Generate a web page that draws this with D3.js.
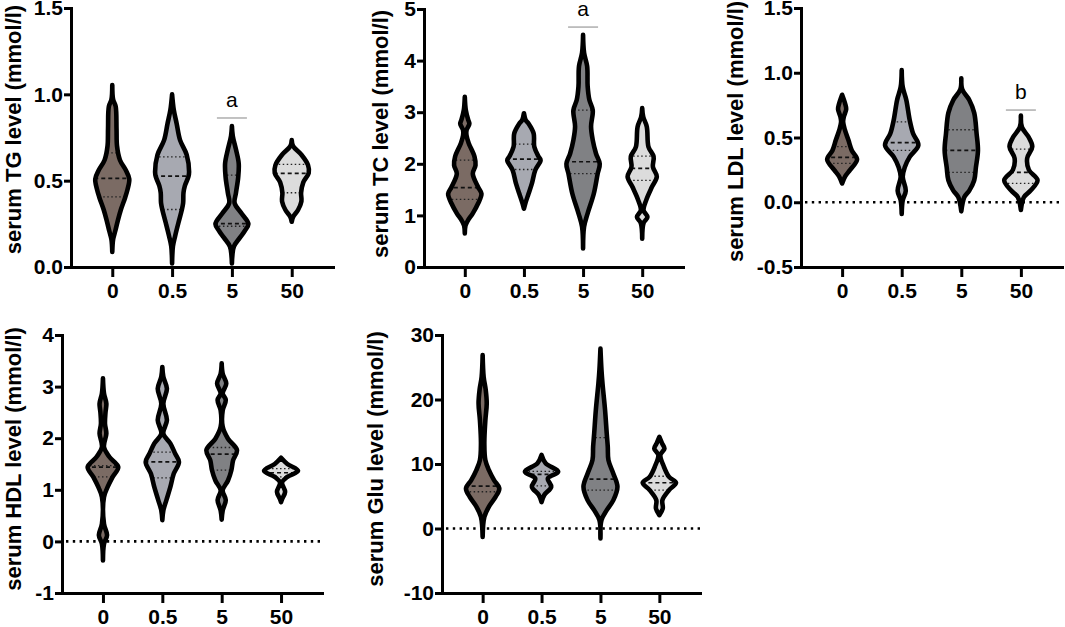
<!DOCTYPE html>
<html>
<head>
<meta charset="utf-8">
<script src="https://cdn.jsdelivr.net/npm/d3@7"></script>
<style>
  body { margin: 0; background: #fff; }
  svg { display: block; font-family: "Liberation Sans", Arial, sans-serif; }
</style>
</head>
<body>
<svg id="chart" width="1065" height="627"></svg>
<script>
// groups on the x axis and their fills
const groups = ["0", "0.5", "5", "50"];
const groupFill = ["#7b6b64", "#a7a9b1", "#808184", "#dcdcdc"];

// violin outlines: [value, relative half width 0..1]
const tgShape = [
  [[1.054,0],[0.97,0.05],[0.93,0.2],[0.8,0.25],[0.7,0.28],[0.62,0.45],[0.56,0.8],[0.51,1.0],[0.45,0.9],[0.4,0.75],[0.33,0.5],[0.27,0.33],[0.21,0.18],[0.16,0.05],[0.087,0]],
  [[1.0,0],[0.91,0.1],[0.83,0.27],[0.735,0.47],[0.65,0.86],[0.55,1.0],[0.523,0.96],[0.47,0.75],[0.43,0.67],[0.37,0.65],[0.33,0.57],[0.255,0.37],[0.18,0.18],[0.12,0.05],[0.02,0]],
  [[0.816,0],[0.76,0.05],[0.68,0.24],[0.6,0.4],[0.52,0.37],[0.43,0.24],[0.37,0.16],[0.31,0.57],[0.25,0.97],[0.21,0.76],[0.17,0.47],[0.12,0.12],[0.07,0.03],[0.02,0]],
  [[0.735,0],[0.70,0.08],[0.65,0.57],[0.59,0.96],[0.545,1.0],[0.49,0.68],[0.43,0.55],[0.38,0.57],[0.33,0.37],[0.29,0.08],[0.262,0]]
];
const tgMedian = [0.513, 0.526, 0.251, 0.542];
const tgQ1 = [0.406, 0.333, 0.236, 0.43];
const tgQ3 = [0.661, 0.638, 0.532, 0.594];

const tcShape = [
  [[3.3,0],[3.04,0.06],[2.85,0.2],[2.78,0.27],[2.65,0.1],[2.55,0.1],[2.4,0.23],[2.14,0.57],[1.97,0.63],[1.81,0.47],[1.55,0.78],[1.42,0.98],[1.23,0.78],[1.04,0.47],[0.9,0.18],[0.8,0.04],[0.65,0]],
  [[2.98,0],[2.85,0.1],[2.78,0.27],[2.59,0.57],[2.33,0.61],[2.14,0.86],[2.07,0.98],[1.88,0.67],[1.62,0.47],[1.42,0.27],[1.23,0.08],[1.13,0]],
  [[4.5,0],[4.15,0.06],[3.89,0.24],[3.5,0.27],[3.24,0.37],[3.04,0.57],[2.72,0.47],[2.46,0.57],[2.2,0.76],[2.0,0.98],[1.81,0.86],[1.42,0.63],[1.04,0.27],[0.78,0.06],[0.36,0]],
  [[3.08,0],[2.91,0.06],[2.72,0.27],[2.33,0.37],[2.14,0.67],[1.94,0.63],[1.75,0.86],[1.55,0.57],[1.3,0.24],[1.1,0.08],[0.97,0.31],[0.85,0.08],[0.55,0]]
];
const tcMedian = [1.54, 2.09, 2.04, 1.91];
const tcQ1 = [1.31, 1.89, 1.81, 1.68];
const tcQ3 = [2.07, 2.38, 3.04, 2.15];

const ldlShape = [
  [[0.83,0],[0.76,0.18],[0.72,0.24],[0.66,0.1],[0.62,0.06],[0.56,0.16],[0.48,0.37],[0.40,0.57],[0.33,0.88],[0.25,0.47],[0.2,0.18],[0.145,0]],
  [[1.02,0],[0.89,0.06],[0.79,0.27],[0.635,0.47],[0.53,0.67],[0.44,0.98],[0.35,0.47],[0.27,0.18],[0.196,0.06],[0.09,0.24],[0.015,0.06],[-0.09,0]],
  [[0.957,0],[0.87,0.06],[0.79,0.47],[0.69,0.76],[0.53,0.9],[0.40,0.98],[0.27,0.86],[0.17,0.76],[0.09,0.47],[0.04,0.18],[-0.07,0]],
  [[0.67,0],[0.58,0.06],[0.5,0.47],[0.43,0.67],[0.34,0.37],[0.25,0.47],[0.17,0.98],[0.09,0.57],[0.04,0.18],[-0.06,0]]
];
const ldlMedian = [0.346, 0.46, 0.40, 0.23];
const ldlQ1 = [0.30, 0.40, 0.23, 0.145];
const ldlQ3 = [0.43, 0.62, 0.56, 0.41];

const hdlShape = [
  [[3.16,0],[2.87,0.06],[2.67,0.2],[2.5,0.15],[2.28,0.12],[2.09,0.2],[1.83,0.06],[1.64,0.37],[1.44,0.9],[1.25,0.57],[1.05,0.27],[0.86,0.06],[0.34,0.06],[0.12,0.24],[-0.05,0.06],[-0.37,0]],
  [[3.38,0],[3.19,0.06],[2.96,0.27],[2.67,0.06],[2.35,0.27],[2.09,0.06],[1.9,0.47],[1.7,0.76],[1.54,0.98],[1.31,0.67],[1.05,0.47],[0.8,0.24],[0.6,0.06],[0.41,0]],
  [[3.45,0],[3.25,0.06],[3.06,0.27],[2.87,0.06],[2.74,0.24],[2.54,0.06],[2.22,0.06],[1.99,0.37],[1.77,0.9],[1.57,0.67],[1.38,0.57],[1.18,0.37],[0.99,0.06],[0.8,0.24],[0.6,0.06],[0.42,0]],
  [[1.62,0],[1.5,0.37],[1.37,1.0],[1.25,0.37],[1.14,0.06],[0.96,0.24],[0.82,0.06],[0.76,0]]
];
const hdlMedian = [1.44, 1.54, 1.69, 1.33];
const hdlQ1 = [1.25, 1.23, 1.38, 1.25];
const hdlQ3 = [1.47, 1.73, 1.82, 1.41];

const gluShape = [
  [[26.9,0],[23.5,0.06],[21.5,0.18],[19.4,0.24],[16.8,0.16],[13.2,0.1],[10.6,0.16],[9.05,0.37],[7.5,0.67],[6.2,0.98],[4.9,0.76],[3.4,0.37],[1.8,0.1],[-1.3,0]],
  [[11.4,0],[10.1,0.24],[8.8,0.98],[7.76,0.37],[6.47,0.57],[5.2,0.16],[4.1,0]],
  [[27.9,0],[24.6,0.06],[22.5,0.12],[18.4,0.27],[14.7,0.37],[12.7,0.43],[10.6,0.47],[8.5,0.76],[6.47,1.0],[4.4,0.76],[2.85,0.37],[1.3,0.06],[-1.55,0]],
  [[14.2,0],[13.2,0.16],[12.4,0.3],[11.4,0.06],[9.57,0.27],[8.0,0.57],[7.1,0.98],[5.95,0.57],[4.4,0.18],[3.1,0.2],[2.07,0]]
];
const gluMedian = [6.57, 8.4, 7.66, 7.09];
const gluQ1 = [5.7, 6.6, 5.95, 5.95];
const gluQ3 = [15.5, 8.85, 14.1, 8.1];

// y ticks per panel
const tgTicks = [0, 0.5, 1.0, 1.5];
const tcTicks = [0, 1, 2, 3, 4, 5];
const ldlTicks = [-0.5, 0, 0.5, 1.0, 1.5];
const hdlTicks = [-1, 0, 1, 2, 3, 4];
const gluTicks = [-10, 0, 10, 20, 30];

// significance letters: [group, letter, value of bar]
const tgSig = ["5", "a", 0.863];
const tcSig = ["5", "a", 4.65];
const ldlSig = ["50", "b", 0.712];

const panels = [
  {title: "serum TG level (mmol/l)", shape: tgShape, med: tgMedian, q1: tgQ1, q3: tgQ3, ticks: tgTicks, fmt: ".1f", sig: tgSig, zero: false,
   left: 71, width: 262, top: 8, bottom: 267, titleX: 21, titleShift: -8},
  {title: "serum TC level (mmol/l)", shape: tcShape, med: tcMedian, q1: tcQ1, q3: tcQ3, ticks: tcTicks, fmt: "d", sig: tcSig, zero: false,
   left: 424, width: 259, top: 9, bottom: 267, titleX: 388, titleShift: -4},
  {title: "serum LDL level (mmol/l)", shape: ldlShape, med: ldlMedian, q1: ldlQ1, q3: ldlQ3, ticks: ldlTicks, fmt: ".1f", sig: ldlSig, zero: true,
   left: 801, width: 261, top: 8, bottom: 267, titleX: 743, titleShift: -6},
  {title: "serum HDL level (mmol/l)", shape: hdlShape, med: hdlMedian, q1: hdlQ1, q3: hdlQ3, ticks: hdlTicks, fmt: "d", sig: null, zero: true,
   left: 62, width: 260, top: 335, bottom: 593, titleX: 21, titleShift: -5},
  {title: "serum Glu level (mmol/l)", shape: gluShape, med: gluMedian, q1: gluQ1, q3: gluQ3, ticks: gluTicks, fmt: "d", sig: null, zero: true,
   left: 442, width: 258, top: 335, bottom: 593, titleX: 383, titleShift: -5}
];

let chart = d3.select("#chart");
let widthScale = d3.scaleLinear().domain([0, 1]).range([0, 17]);

panels.forEach(function(p, i) {
  let g = chart.append("g");
  let xScale = d3.scalePoint().domain(groups).range([p.left, p.left + p.width]).padding(0.69);
  let yScale = d3.scaleLinear().domain([p.ticks[0], p.ticks[p.ticks.length - 1]]).range([p.bottom, p.top]);

  // dotted zero line behind the violins
  if (p.zero) {
    g.append("line")
      .attr("x1", p.left + 4).attr("x2", p.left + p.width)
      .attr("y1", yScale(0)).attr("y2", yScale(0))
      .attr("stroke", "#000").attr("stroke-width", 2.6)
      .attr("stroke-dasharray", "2.4,4.4");
  }

  p.shape.forEach(function(shape, k) {
    let cx = xScale(groups[k]);
    let area = d3.area()
      .curve(d3.curveCatmullRom)
      .y(d => yScale(d[0]))
      .x0(d => cx - widthScale(d[1]))
      .x1(d => cx + widthScale(d[1]));
    let id = "clip" + i + "_" + k;
    g.append("clipPath").attr("id", id)
      .append("path").attr("d", area(shape));

    g.append("path").attr("d", area(shape)).attr("fill", groupFill[k]);

    // quartiles dotted, median dashed, clipped to the violin
    [p.q1[k], p.q3[k]].forEach(function(v) {
      g.append("line")
        .attr("clip-path", "url(#" + id + ")")
        .attr("x1", cx - 25).attr("x2", cx + 25)
        .attr("y1", yScale(v)).attr("y2", yScale(v))
        .attr("stroke", "#222").attr("stroke-width", 1.3)
        .attr("stroke-dasharray", "1.5,2.5");
    });
    g.append("line")
      .attr("clip-path", "url(#" + id + ")")
      .attr("x1", cx - 25).attr("x2", cx + 25)
      .attr("y1", yScale(p.med[k])).attr("y2", yScale(p.med[k]))
      .attr("stroke", "#111").attr("stroke-width", 1.7)
      .attr("stroke-dasharray", "4,3");

    g.append("path").attr("d", area(shape))
      .attr("fill", "none").attr("stroke", "#000")
      .attr("stroke-width", 4.6).attr("stroke-linejoin", "round");
  });

  // significance mark
  if (p.sig) {
    let sx = xScale(p.sig[0]);
    let sy = yScale(p.sig[2]);
    g.append("line")
      .attr("x1", sx - 15).attr("x2", sx + 15)
      .attr("y1", sy).attr("y2", sy)
      .attr("stroke", "#999").attr("stroke-width", 1.2);
    g.append("text").text(p.sig[1])
      .attr("x", sx).attr("y", sy - 11)
      .attr("text-anchor", "middle")
      .attr("font-size", "21px");
  }

  let fmt = d3.format(p.fmt);
  let yAxis = g.append("g")
    .attr("transform", "translate(" + p.left + ",0)")
    .call(d3.axisLeft(yScale).tickValues(p.ticks).tickSize(7).tickSizeOuter(0).tickPadding(1)
      .tickFormat(d => fmt(d).replace("\u2212", "-")));
  let xAxis = g.append("g")
    .attr("transform", "translate(0," + p.bottom + ")")
    .call(d3.axisBottom(xScale).tickSize(10).tickSizeOuter(0).tickPadding(6));

  [yAxis, xAxis].forEach(function(a) {
    a.select(".domain").attr("stroke-width", 3).attr("stroke-linecap", "square");
    a.selectAll(".tick line").attr("stroke-width", 3);
    a.selectAll(".tick text")
      .attr("font-family", "'Liberation Sans', Arial, sans-serif")
      .attr("font-size", "21px").attr("font-weight", "bold").attr("fill", "#000");
  });

  g.append("text")
    .text(p.title)
    .attr("transform", "translate(" + p.titleX + "," + ((p.top + p.bottom) / 2 + p.titleShift) + ") rotate(-90)")
    .attr("text-anchor", "middle")
    .attr("font-size", "22px").attr("font-weight", "bold");
});
</script>
</body>
</html>
